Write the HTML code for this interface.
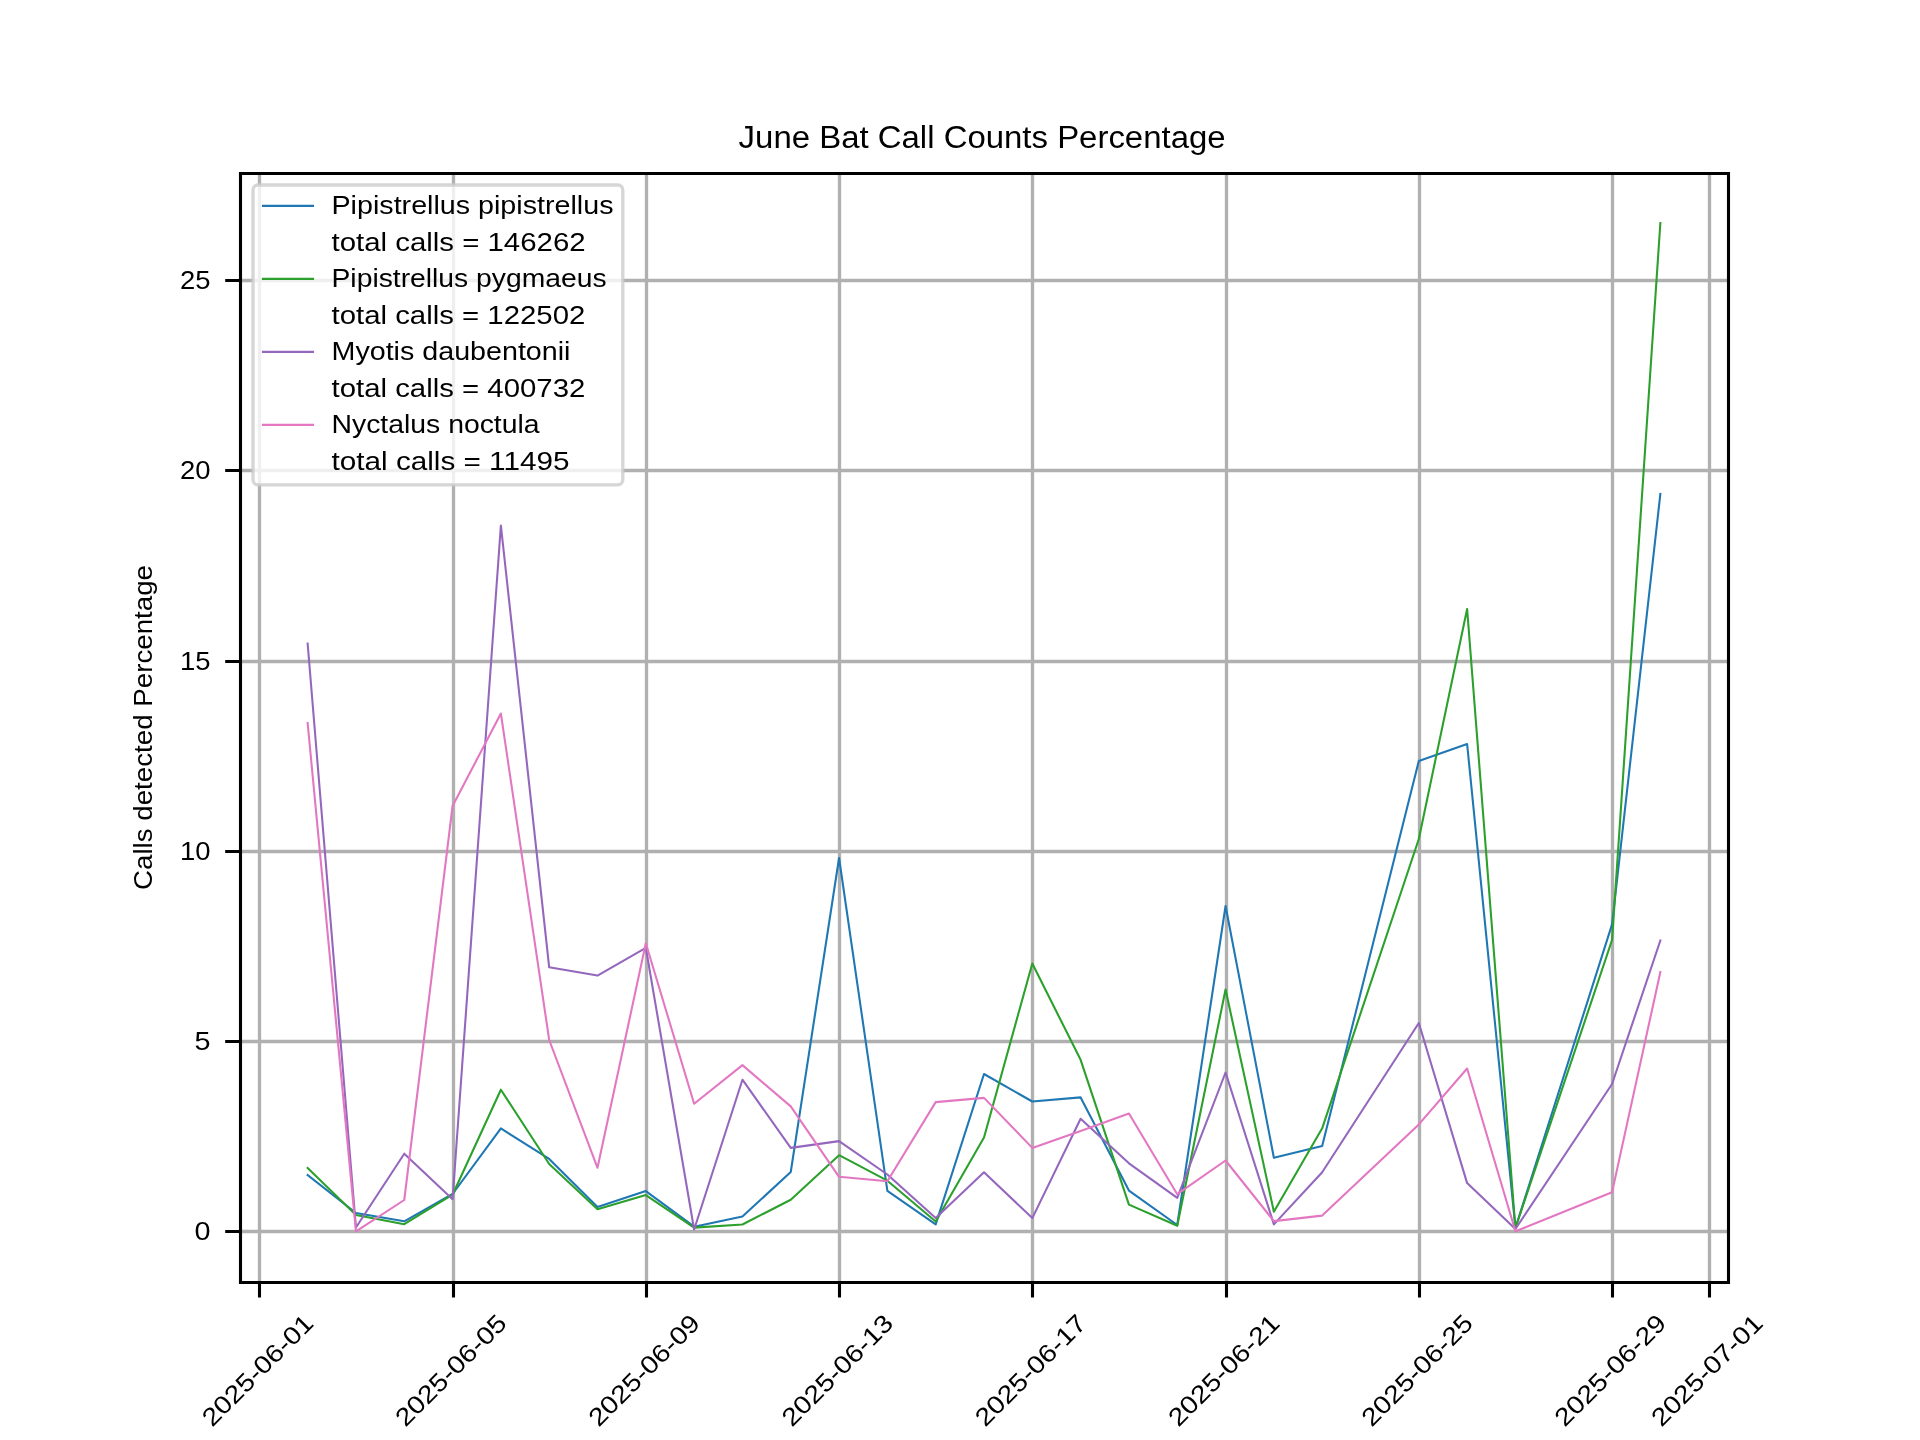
<!DOCTYPE html>
<html><head><meta charset="utf-8"><style>html,body{margin:0;padding:0;background:#fff;overflow:hidden}svg{display:block;will-change:transform}</style></head><body>
<svg width="1920" height="1440" viewBox="0 0 1920 1440" font-family="'Liberation Sans', sans-serif">
<rect x="0" y="0" width="1920" height="1440" fill="#fff"/>
<path d="M259.50 172.8V1281.6 M453.50 172.8V1281.6 M646.50 172.8V1281.6 M839.50 172.8V1281.6 M1032.50 172.8V1281.6 M1226.50 172.8V1281.6 M1419.50 172.8V1281.6 M1612.50 172.8V1281.6 M1709.50 172.8V1281.6 M240 1231.50H1728 M240 1041.50H1728 M240 851.50H1728 M240 661.50H1728 M240 470.50H1728 M240 280.50H1728" stroke="#b0b0b0" stroke-width="3.33" fill="none"/>
<g clip-path="url(#ax)"><defs><clipPath id="ax"><rect x="240" y="172.8" width="1488" height="1108.8"/></clipPath></defs>
<polyline points="307.64,1175.00 355.95,1213.00 404.26,1221.30 452.57,1194.00 500.88,1128.40 549.19,1158.90 597.51,1207.10 645.82,1191.10 694.13,1226.70 742.44,1216.50 790.75,1172.00 839.06,858.00 887.38,1190.90 935.69,1224.40 984.00,1074.00 1032.31,1101.50 1080.62,1097.40 1128.94,1190.60 1177.25,1225.00 1225.56,906.00 1273.87,1157.80 1322.18,1146.10 1418.81,761.00 1467.12,744.00 1515.43,1228.00 1612.05,924.40 1660.36,494.00" fill="none" stroke="#1f77b4" stroke-width="2.08" stroke-linejoin="round" stroke-linecap="square"/>
<polyline points="307.64,1168.00 355.95,1215.00 404.26,1224.20 452.57,1194.70 500.88,1089.70 549.19,1164.00 597.51,1209.30 645.82,1195.10 694.13,1227.60 742.44,1224.50 790.75,1199.70 839.06,1155.20 887.38,1180.70 935.69,1221.50 984.00,1137.50 1032.31,963.50 1080.62,1059.80 1128.94,1204.60 1177.25,1225.80 1225.56,989.50 1273.87,1211.70 1322.18,1128.30 1418.81,839.00 1467.12,609.00 1515.43,1228.00 1612.05,940.00 1660.36,223.00" fill="none" stroke="#2ca02c" stroke-width="2.08" stroke-linejoin="round" stroke-linecap="square"/>
<polyline points="307.64,643.50 355.95,1227.50 404.26,1153.70 452.57,1199.20 500.88,525.50 549.19,967.30 597.51,975.60 645.82,947.80 694.13,1229.50 742.44,1079.70 790.75,1147.90 839.06,1141.10 887.38,1174.50 935.69,1218.10 984.00,1172.30 1032.31,1218.10 1080.62,1118.80 1128.94,1163.30 1177.25,1197.90 1225.56,1072.50 1273.87,1224.40 1322.18,1172.20 1418.81,1023.00 1467.12,1183.10 1515.43,1229.00 1612.05,1084.00 1660.36,940.50" fill="none" stroke="#9467bd" stroke-width="2.08" stroke-linejoin="round" stroke-linecap="square"/>
<polyline points="307.64,723.00 355.95,1231.30 404.26,1200.00 452.57,806.00 500.88,713.50 549.19,1040.00 597.51,1167.80 645.82,943.30 694.13,1103.70 742.44,1065.10 790.75,1106.40 839.06,1176.80 887.38,1181.20 935.69,1102.10 984.00,1097.90 1032.31,1147.90 1080.62,1131.00 1128.94,1113.50 1177.25,1194.20 1225.56,1160.50 1273.87,1221.10 1322.18,1215.60 1418.81,1124.40 1467.12,1068.50 1515.43,1231.30 1612.05,1192.20 1660.36,972.00" fill="none" stroke="#e377c2" stroke-width="2.08" stroke-linejoin="round" stroke-linecap="square"/>
</g>
<path d="M240.5 172V1284M1728.5 172V1284M239 173.5H1730M239 1282.5H1730" fill="none" stroke="#000" stroke-width="3.1"/>
<path d="M259.50 1282.5V1297.5 M453.50 1282.5V1297.5 M646.50 1282.5V1297.5 M839.50 1282.5V1297.5 M1032.50 1282.5V1297.5 M1226.50 1282.5V1297.5 M1419.50 1282.5V1297.5 M1612.50 1282.5V1297.5 M1709.50 1282.5V1297.5 M240 1231.50H225.2 M240 1041.50H225.2 M240 851.50H225.2 M240 661.50H225.2 M240 470.50H225.2 M240 280.50H225.2" stroke="#000" stroke-width="3.1" fill="none"/>
<text x="210.6" y="1240.10" font-size="25" text-anchor="end" textLength="16.0" lengthAdjust="spacingAndGlyphs">0</text>
<text x="210.6" y="1050.10" font-size="25" text-anchor="end" textLength="16.0" lengthAdjust="spacingAndGlyphs">5</text>
<text x="210.6" y="860.10" font-size="25" text-anchor="end" textLength="30.5" lengthAdjust="spacingAndGlyphs">10</text>
<text x="210.6" y="670.10" font-size="25" text-anchor="end" textLength="30.5" lengthAdjust="spacingAndGlyphs">15</text>
<text x="210.6" y="479.10" font-size="25" text-anchor="end" textLength="30.5" lengthAdjust="spacingAndGlyphs">20</text>
<text x="210.6" y="289.10" font-size="25" text-anchor="end" textLength="30.5" lengthAdjust="spacingAndGlyphs">25</text>
<text transform="translate(257.22,1370.00) rotate(-45)" x="0" y="9" font-size="25" text-anchor="middle" textLength="145.5" lengthAdjust="spacingAndGlyphs">2025-06-01</text>
<text transform="translate(450.47,1370.00) rotate(-45)" x="0" y="9" font-size="25" text-anchor="middle" textLength="145.5" lengthAdjust="spacingAndGlyphs">2025-06-05</text>
<text transform="translate(643.72,1370.00) rotate(-45)" x="0" y="9" font-size="25" text-anchor="middle" textLength="145.5" lengthAdjust="spacingAndGlyphs">2025-06-09</text>
<text transform="translate(836.96,1370.00) rotate(-45)" x="0" y="9" font-size="25" text-anchor="middle" textLength="145.5" lengthAdjust="spacingAndGlyphs">2025-06-13</text>
<text transform="translate(1030.21,1370.00) rotate(-45)" x="0" y="9" font-size="25" text-anchor="middle" textLength="145.5" lengthAdjust="spacingAndGlyphs">2025-06-17</text>
<text transform="translate(1223.46,1370.00) rotate(-45)" x="0" y="9" font-size="25" text-anchor="middle" textLength="145.5" lengthAdjust="spacingAndGlyphs">2025-06-21</text>
<text transform="translate(1416.71,1370.00) rotate(-45)" x="0" y="9" font-size="25" text-anchor="middle" textLength="145.5" lengthAdjust="spacingAndGlyphs">2025-06-25</text>
<text transform="translate(1609.95,1370.00) rotate(-45)" x="0" y="9" font-size="25" text-anchor="middle" textLength="145.5" lengthAdjust="spacingAndGlyphs">2025-06-29</text>
<text transform="translate(1706.58,1370.00) rotate(-45)" x="0" y="9" font-size="25" text-anchor="middle" textLength="145.5" lengthAdjust="spacingAndGlyphs">2025-07-01</text>
<text transform="translate(152,727.5) rotate(-90)" x="0" y="0" font-size="25.5" text-anchor="middle" textLength="325" lengthAdjust="spacingAndGlyphs">Calls detected Percentage</text>
<text x="982.1" y="147.8" font-size="30.6" text-anchor="middle" textLength="487" lengthAdjust="spacingAndGlyphs">June Bat Call Counts Percentage</text>
<rect x="253" y="185" width="369.8" height="299.8" rx="5" ry="5" fill="#fff" fill-opacity="0.8" stroke="#ccc" stroke-opacity="0.8" stroke-width="3.33"/>
<path d="M263 205.90H313" stroke="#1f77b4" stroke-width="2.08" stroke-linecap="square"/>
<text x="331.5" y="214.00" font-size="25" textLength="282.0" lengthAdjust="spacingAndGlyphs">Pipistrellus pipistrellus</text>
<text x="331.5" y="250.50" font-size="25" textLength="254.1" lengthAdjust="spacingAndGlyphs">total calls = 146262</text>
<path d="M263 278.90H313" stroke="#2ca02c" stroke-width="2.08" stroke-linecap="square"/>
<text x="331.5" y="287.00" font-size="25" textLength="275.1" lengthAdjust="spacingAndGlyphs">Pipistrellus pygmaeus</text>
<text x="331.5" y="323.50" font-size="25" textLength="253.8" lengthAdjust="spacingAndGlyphs">total calls = 122502</text>
<path d="M263 351.90H313" stroke="#9467bd" stroke-width="2.08" stroke-linecap="square"/>
<text x="331.5" y="360.00" font-size="25" textLength="239.0" lengthAdjust="spacingAndGlyphs">Myotis daubentonii</text>
<text x="331.5" y="396.50" font-size="25" textLength="253.8" lengthAdjust="spacingAndGlyphs">total calls = 400732</text>
<path d="M263 424.90H313" stroke="#e377c2" stroke-width="2.08" stroke-linecap="square"/>
<text x="331.5" y="433.00" font-size="25" textLength="208.1" lengthAdjust="spacingAndGlyphs">Nyctalus noctula</text>
<text x="331.5" y="469.50" font-size="25" textLength="238.0" lengthAdjust="spacingAndGlyphs">total calls = 11495</text>
</svg></body></html>
